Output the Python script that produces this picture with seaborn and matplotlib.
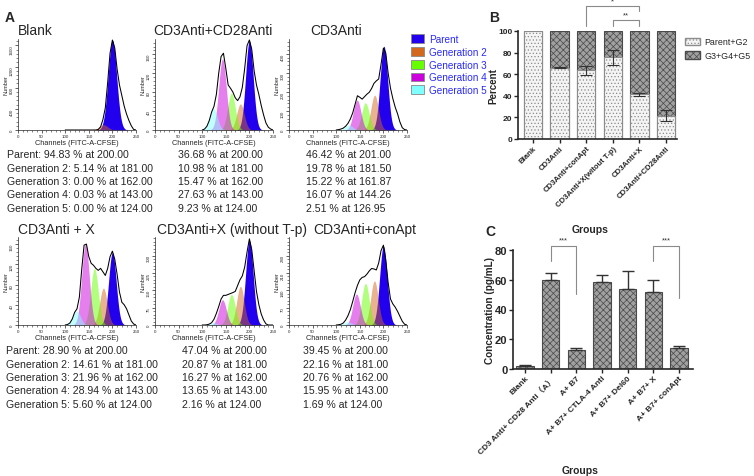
import matplotlib
matplotlib.use("Agg")
import matplotlib.pyplot as plt
from matplotlib.patches import Patch
import numpy as np
import pandas as pd
import seaborn as sns

# ---------------- panel A: CFSE generation histograms ----------------
panel_titles = ["Blank", "CD3Anti+CD28Anti", "CD3Anti",
                "CD3Anti + X", "CD3Anti+X (without T-p)", "CD3Anti+conApt"]
generation_names = ["Parent", "Generation 2", "Generation 3", "Generation 4", "Generation 5"]
generation_colors = ["#2200ee", "#d2691e", "#66ff00", "#cc00dd", "#80ffff"]

# histogram outline, read every 5 channels from 100 to 250
channels = [100, 105, 110, 115, 120, 125, 130, 135, 140, 145, 150, 155, 160, 165, 170, 175,
            180, 185, 190, 195, 200, 205, 210, 215, 220, 225, 230, 235, 240, 245, 250]
outline_blank = [0, 0, 0, 0, 0, 0, 0, 0, 0, 0, 0, 0, 0, 0, 10, 60,
                 200, 420, 900, 1450, 1700, 1550, 1150, 850, 650, 450, 300, 180, 80, 10, 0]
outline_cd28 = [0, 2, 8, 20, 38, 50, 75, 120, 155, 162, 130, 95, 88, 80, 68, 62,
                70, 90, 130, 178, 190, 170, 125, 95, 75, 52, 32, 15, 6, 2, 0]
outline_cd3 = [0, 2, 5, 10, 20, 35, 58, 90, 135, 180, 172, 162, 175, 188, 198, 218,
               245, 258, 268, 345, 430, 405, 300, 220, 165, 120, 85, 42, 12, 2, 0]
outline_x = [0, 1, 4, 12, 25, 32, 55, 110, 158, 160, 135, 122, 118, 112, 108, 112,
             105, 98, 112, 135, 146, 130, 100, 65, 45, 40, 32, 20, 8, 2, 0]
outline_x_notp = [0, 0, 1, 4, 10, 25, 50, 80, 112, 128, 128, 132, 136, 140, 145, 170,
                  195, 212, 250, 315, 372, 325, 235, 145, 88, 48, 22, 5, 0, 0, 0]
outline_conapt = [0, 1, 3, 8, 20, 38, 62, 95, 130, 160, 182, 192, 195, 205, 218, 228,
                  226, 222, 250, 300, 322, 262, 172, 105, 85, 72, 55, 35, 15, 3, 0]
outlines = [outline_blank, outline_cd28, outline_cd3, outline_x, outline_x_notp, outline_conapt]

# fitted generation peaks: centre (channel), height (count), width
peak_centers = [[200, 181, 162, 143, 124], [200, 181, 162, 143, 124],
                [201.00, 181.50, 161.87, 144.26, 126.95], [200, 181, 162, 143, 124],
                [200, 181, 162, 143, 124], [200, 181, 162, 143, 124]]
peak_heights = [[1700, 100, 0, 3, 0], [188, 55, 78, 150, 46], [440, 183, 143, 157, 26],
                [143, 73, 112, 160, 28], [365, 167, 132, 109, 10], [318, 178, 168, 125, 13]]
peak_sigma = [9, 8, 8, 8, 8, 8]
peak_percent = [[94.83, 5.14, 0.00, 0.03, 0.00], [36.68, 10.98, 15.47, 27.63, 9.23],
                [46.42, 19.78, 15.22, 16.07, 2.51], [28.90, 14.61, 21.96, 28.94, 5.60],
                [47.04, 20.87, 16.27, 13.65, 2.16], [39.45, 22.16, 20.76, 15.95, 1.69]]
y_max = [1720, 192, 478, 174, 380, 355]
y_ticks = [[0, 400, 800, 1200, 1600], [0, 40, 80, 120, 160], [0, 100, 200, 300, 400],
           [0, 40, 80, 120, 160], [0, 75, 150, 225, 300], [0, 70, 140, 210, 280]]

# ---------------- panel B: proportion of generations ----------------
groups_b = ["Blank", "CD3Anti", "CD3Anti+conApt", "CD3Anti+X(witout T-p)", "CD3Anti+X", "CD3Anti+CD28Anti"]
parent_g2 = [100, 66, 63.5, 75.5, 41.5, 21.5]
parent_g2_err = [0, 0.6, 4.5, 7.0, 1.3, 5.0]
g3_g5 = [0, 34, 36.5, 24.5, 58.5, 78.5]

# ---------------- panel C: concentration ----------------
groups_c = ["Blank", "CD3 Anti+ CD28 Anti（A）", "A+ B7", "A+ B7+ CTLA-4 Anti",
            "A+ B7+ Del60", "A+ B7+ X", "A+ B7+ conApt"]
conc = [2.2, 60, 12.7, 58.3, 53.7, 52, 14]
conc_err = [0.7, 4.3, 1.3, 4.7, 12.5, 7.5, 1.2]

sns.set_style("ticks")
plt.rcParams["font.family"] = ["Liberation Sans", "Noto Sans CJK SC", "DejaVu Sans"]
plt.rcParams["hatch.linewidth"] = 0.5

W, H = 754, 477
fig = plt.figure(figsize=(W / 100, H / 100), dpi=100)


def px_axes(left, top, right, bottom):
    return fig.add_axes([left / W, 1 - bottom / H, (right - left) / W, (bottom - top) / H])


def px_text(x, y, s, **kw):
    fig.text(x / W, 1 - y / H, s, **kw)


hist_left = [18, 155, 289]
row_top = [40, 238]
row_bottom = [131, 326]
title_x = [[18, 153, 310], [18, 157, 313]]
title_y = [31, 230]
stats_x = [[7, 178, 306], [6, 182, 303]]
stats_y = [155, 351]

fine = np.linspace(0, 250, 751)
for i, title in enumerate(panel_titles):
    row, col = divmod(i, 3)
    ax = px_axes(hist_left[col], row_top[row], hist_left[col] + 118, row_bottom[row])
    for g in range(5):
        curve = peak_heights[i][g] * np.exp(-0.5 * ((fine - peak_centers[i][g]) / peak_sigma[i]) ** 2)
        ax.fill_between(fine, 0, curve, color=generation_colors[g],
                        alpha=1.0 if g == 0 else 0.5, lw=0)
    sns.lineplot(x=channels, y=outlines[i], ax=ax, color="black", lw=0.75)
    ax.set_xlim(0, 250)
    ax.set_ylim(0, y_max[i])
    ax.set_xticks([0, 50, 100, 150, 200, 250])
    ax.set_xticks(np.arange(0, 251, 10), minor=True)
    ax.set_yticks(y_ticks[i])
    step = y_ticks[i][1] / 5
    ax.set_yticks(np.arange(0, y_max[i], step), minor=True)
    ax.tick_params(axis="both", labelsize=3.2, length=2, width=0.5, pad=1)
    ax.tick_params(axis="both", which="minor", length=1.2, width=0.4)
    ax.tick_params(axis="y", labelrotation=90)
    ax.set_xlabel("Channels (FITC-A-CFSE)", fontsize=5.3, labelpad=0.5)
    ax.set_ylabel("Number", fontsize=4, labelpad=1)
    sns.despine(ax=ax)
    for s in ["left", "bottom"]:
        ax.spines[s].set_linewidth(0.5)

    px_text(title_x[row][col], title_y[row], title, fontsize=10, va="center")
    for g in range(5):
        prefix = generation_names[g] + ": " if col == 0 else ""
        line = f"{prefix}{peak_percent[i][g]:.2f} % at {peak_centers[i][g]:.2f}"
        px_text(stats_x[row][col], stats_y[row] + g * 13.5, line, fontsize=7.6, va="center")

handles_a = [Patch(facecolor=c, edgecolor="#888888", lw=0.6) for c in generation_colors]
fig.legend(handles_a, generation_names, loc="upper left", bbox_to_anchor=(406 / W, 1 - 30 / H),
           frameon=False, fontsize=7.2, labelcolor="#2a2aff", handlelength=1.3, handleheight=1.0,
           handletextpad=0.5, labelspacing=0.28, borderpad=0)

# ---------------- panel B ----------------
light_fill, light_edge = "#f4f4f4", "#8c8c8c"
dark_fill, dark_edge = "#a0a0a0", "#4a4a4a"

df_b = pd.DataFrame({"group": groups_b, "parent_g2": parent_g2, "g3_g5": g3_g5})
df_b["total"] = df_b["parent_g2"] + df_b["g3_g5"]

ax_b = px_axes(518, 32, 677, 140)
sns.barplot(data=df_b, x="group", y="total", color=dark_fill, edgecolor=dark_edge, hatch="xxxxx",
            linewidth=0.8, width=0.68, saturation=1, ax=ax_b)
sns.barplot(data=df_b, x="group", y="parent_g2", color=light_fill, edgecolor=light_edge, hatch=".....",
            linewidth=0.8, width=0.68, saturation=1, ax=ax_b)
err_idx = [k for k, e in enumerate(parent_g2_err) if e > 0]
ax_b.errorbar(err_idx, [parent_g2[k] for k in err_idx], yerr=[parent_g2_err[k] for k in err_idx],
              fmt="none", ecolor="#333333", elinewidth=0.8, capsize=4, capthick=0.8)
ax_b.set_xlim(-0.56, 5.41)
ax_b.set_ylim(0, 100)
ax_b.set_yticks([0, 20, 40, 60, 80, 100])
ax_b.set_xticks(range(len(groups_b)))
ax_b.set_xticklabels(groups_b, rotation=45, ha="right", rotation_mode="anchor",
                     fontsize=5.6, fontweight="bold")
for lab in ax_b.get_yticklabels():
    lab.set_fontweight("bold")
ax_b.tick_params(axis="y", labelsize=6, length=3, width=1, pad=1)
ax_b.tick_params(axis="x", length=3, width=1, pad=1)
ax_b.set_xlabel("")
ax_b.set_ylabel("")
sns.despine(ax=ax_b)
for s in ["left", "bottom"]:
    ax_b.spines[s].set_linewidth(1.2)

handles_b = [Patch(facecolor=light_fill, edgecolor=light_edge, hatch="....."),
             Patch(facecolor=dark_fill, edgecolor=dark_edge, hatch="xxxxx")]
ax_b.legend(handles_b, ["Parent+G2", "G3+G4+G5"], loc="upper left", bbox_to_anchor=(681 / W, 1 - 34 / H),
            bbox_transform=fig.transFigure, frameon=False, fontsize=6.4, handlelength=1.6,
            handleheight=0.9, handletextpad=0.5, labelspacing=0.5, borderpad=0)


def bracket(ax, x1, x2, y_top, y1, y2, label, text_y, color="#8a8a8a"):
    ax.plot([x1, x1, x2, x2], [y1, y_top, y_top, y2], color=color, lw=0.8, clip_on=False)
    ax.text((x1 + x2) / 2, text_y, label, ha="center", va="center", fontsize=5.5,
            color="#333333", clip_on=False)


bracket(ax_b, 2, 4, 123, 104.6, 118.5, "*", 127.5)
bracket(ax_b, 3, 4, 110, 104.6, 104.6, "**", 114.5)

px_text(493, 86, "Percent", rotation=90, fontsize=7, fontweight="bold", ha="center", va="center")
px_text(590, 230, "Groups", fontsize=7.5, fontweight="bold", ha="center", va="center")

# ---------------- panel C ----------------
df_c = pd.DataFrame({"group": groups_c, "conc": conc})
ax_c = px_axes(513, 251, 693, 370)
sns.barplot(data=df_c, x="group", y="conc", color=dark_fill, edgecolor=dark_edge, hatch="xxxxx",
            linewidth=0.8, width=0.68, saturation=1, ax=ax_c)
ax_c.errorbar(range(len(groups_c)), conc, yerr=[np.zeros(len(conc)), conc_err], fmt="none",
              ecolor="#333333", elinewidth=1.0, capsize=4, capthick=1.0)
ax_c.set_xlim(-0.47, 6.55)
ax_c.set_ylim(0, 80)
ax_c.set_yticks([0, 20, 40, 60, 80])
ax_c.set_xticks(range(len(groups_c)))
ax_c.set_xticklabels(groups_c, rotation=45, ha="right", rotation_mode="anchor",
                     fontsize=6, fontweight="bold")
for lab in ax_c.get_yticklabels():
    lab.set_fontweight("bold")
ax_c.tick_params(axis="y", labelsize=8, length=3, width=1, pad=1)
ax_c.tick_params(axis="x", length=3, width=1, pad=1)
ax_c.set_xlabel("")
ax_c.set_ylabel("")
sns.despine(ax=ax_c)
for s in ["left", "bottom"]:
    ax_c.spines[s].set_linewidth(1.2)

bracket(ax_c, 1, 2, 82.6, 72.5, 50.3, "***", 86.5)
bracket(ax_c, 5, 6, 82.6, 72.5, 48, "***", 86.5)

px_text(490, 310, "Concentration (pg/mL)", rotation=90, fontsize=7.2, fontweight="bold",
        ha="center", va="center")
px_text(580, 471, "Groups", fontsize=7.5, fontweight="bold", ha="center", va="center")

# panel letters
px_text(5, 18, "A", fontsize=10, fontweight="bold", va="center")
px_text(489, 18, "B", fontsize=10, fontweight="bold", va="center")
px_text(485, 232, "C", fontsize=10, fontweight="bold", va="center")

fig.savefig("out.png", dpi=100)
